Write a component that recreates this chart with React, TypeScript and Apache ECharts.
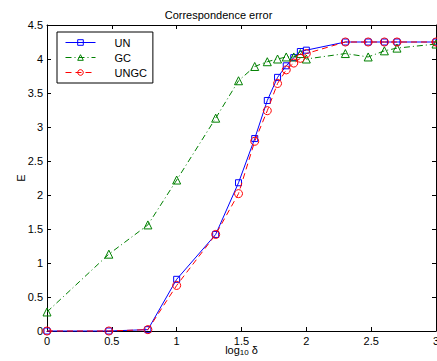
import React, { useEffect, useRef } from "react";
import * as echarts from "echarts";

const X_VALUES = [0, 0.477, 0.778, 1, 1.301, 1.477, 1.602, 1.699, 1.778, 1.845, 1.903, 1.954, 2, 2.301, 2.477, 2.602, 2.699, 3];
const UN = [0, 0, 0.02, 0.76, 1.42, 2.18, 2.83, 3.39, 3.73, 3.9, 4.02, 4.11, 4.13, 4.25, 4.25, 4.25, 4.25, 4.25];
const GC = [0.28, 1.13, 1.56, 2.22, 3.13, 3.68, 3.89, 3.96, 4.0, 4.03, 4.03, 4.08, 4.0, 4.08, 4.03, 4.12, 4.16, 4.22];
const UNGC = [0, 0, 0.02, 0.67, 1.42, 2.02, 2.79, 3.24, 3.64, 3.84, 3.94, 4.01, 4.08, 4.25, 4.25, 4.25, 4.25, 4.25];
const SERIES_NAMES = ["UN", "GC", "UNGC"];
const TITLE = "Correspondence error";

const FONT = "'Liberation Sans', Arial, Helvetica, sans-serif";

function pairs(ys: number[]) {
  return X_VALUES.map((x, i) => [x, ys[i]]);
}

export default function App() {
  const ref = useRef<HTMLDivElement>(null);
  useEffect(() => {
    document.body.style.margin = "0";
    if (!ref.current) return;
    const chart = echarts.init(ref.current, null, { renderer: "svg" });
    const axisCommon = {
      min: 0,
      axisLine: { show: true, onZero: false, lineStyle: { color: "#000", width: 1 } },
      axisTick: { show: true, inside: true, length: 4, lineStyle: { color: "#000", width: 1 } },
      splitLine: { show: false },
    };
    const mk = (name: string, ys: number[], color: string, symbol: string, size: number, dash: any, z: number) => ({
      name,
      type: "line",
      data: pairs(ys),
      symbol,
      symbolSize: size,
      showSymbol: true,
      clip: false,
      z,
      lineStyle: { color, width: 1, type: dash },
      itemStyle: { color: "rgba(255,255,255,0)", borderColor: color, borderWidth: 1 },
    });
    chart.setOption({
      animation: false,
      backgroundColor: "#fff",
      textStyle: { fontFamily: FONT },
      title: {
        text: TITLE,
        left: "center",
        top: 4,
        textStyle: { fontSize: 11, fontWeight: "normal", color: "#000", fontFamily: FONT },
      },
      legend: {
        left: 57,
        top: 32,
        orient: "vertical",
        padding: [5, 6, 5, 8],
        itemWidth: 30,
        itemHeight: 7,
        itemGap: 4,
        borderColor: "#000",
        borderWidth: 1,
        backgroundColor: "#fff",
        itemStyle: { color: "rgba(255,255,255,0)", borderWidth: 1 },
        lineStyle: { width: 1 },
        textStyle: { fontSize: 11, color: "#000", fontFamily: FONT, padding: [0, 0, 0, 14], lineHeight: 9 },
        data: SERIES_NAMES,
      },
      grid: { left: 47, top: 25, right: 1, bottom: 30, containLabel: false, outerBoundsMode: "none" },
      xAxis: [
        {
          ...axisCommon,
          type: "value",
          max: 3,
          interval: 0.5,
          position: "bottom",
          axisLabel: { color: "#000", fontSize: 11, margin: 4, fontFamily: FONT },
          name: "{a|log}{b|10}{a| δ}",
          nameLocation: "middle",
          nameGap: 13,
          nameMoveOverlap: false,
          nameTextStyle: {
            verticalAlign: "top",
            rich: {
              a: { fontSize: 11, color: "#000", fontFamily: FONT, lineHeight: 12 },
              b: { fontSize: 8, color: "#000", fontFamily: FONT, lineHeight: 12, padding: [5, 0, 0, 0] },
            },
          },
        },
        {
          ...axisCommon,
          type: "value",
          max: 3,
          interval: 0.5,
          position: "top",
          axisLabel: { show: false },
        },
      ],
      yAxis: [
        {
          ...axisCommon,
          type: "value",
          max: 4.5,
          interval: 0.5,
          position: "left",
          axisLabel: { color: "#000", fontSize: 11, margin: 4, fontFamily: FONT },
          name: "E",
          nameLocation: "middle",
          nameRotate: 90,
          nameGap: 21,
          nameMoveOverlap: false,
          nameTextStyle: { fontSize: 11, color: "#000", fontFamily: FONT },
        },
        {
          ...axisCommon,
          type: "value",
          max: 4.5,
          interval: 0.5,
          position: "right",
          axisLabel: { show: false },
        },
      ],
      series: [
        mk("UN", UN, "#0000ff", "rect", 6, "solid", 2),
        mk("GC", GC, "#008000", "triangle", 8, [6, 3, 1, 3], 3),
        mk("UNGC", UNGC, "#ff0000", "circle", 8, [6, 4], 4),
      ],
    });
    return () => chart.dispose();
  }, []);
  return <div ref={ref} style={{ width: 437, height: 361 }} />;
}
